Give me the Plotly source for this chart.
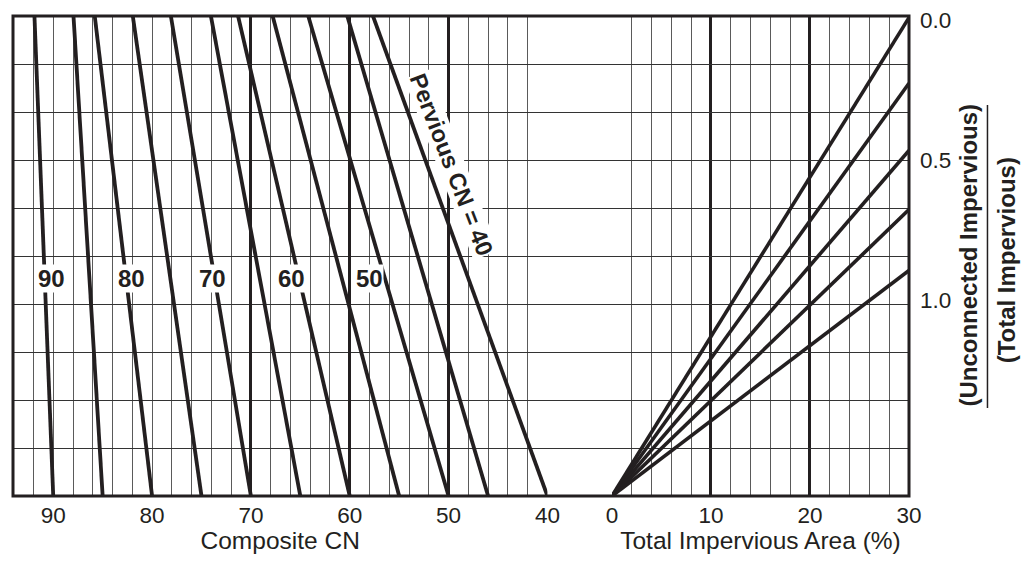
import plotly.graph_objects as go

# ---------------- data ----------------
# Left panel: pervious-CN lines, from the bottom (pervious CN) to the top edge (composite CN)
pervious_cn = [90, 85, 80, 75, 70, 65, 60, 55, 50, 46, 40]
composite_cn_top = [91.9, 87.95, 85.8, 81.95, 78.1, 74.05, 71.3, 67.8, 64.2, 60.25, 57.65]
frac_bottom_top = [0.0, 0.30]          # vertical scale (effective impervious fraction)

# Right panel: fan lines from 0 % to 30 % total impervious area
tia_start_end = [0, 30]
fan_end_frac = [0.299, 0.258, 0.216, 0.179, 0.141]

# Labels on the pervious-CN lines
cn_label_text = ["90", "80", "70", "60", "50"]
cn_label_x = [90.2, 82.1, 73.9, 65.9, 58.0]
cn_label_y = 0.136
pervious_label_text = "Pervious CN = 40"
pervious_label_x = 49.7
pervious_label_y = 0.207

# Ratio scale on the right
ratio_ticks = [0.0, 0.5, 1.0]
ratio_ticktext = ["0.0", "0.5", "1.0"]
ratio_range = [1.7, -0.0143]

# Axes
cn_range = [94.07, 40]
cn_ticks = [90, 80, 70, 60, 50, 40]
cn_heavy = [70, 60, 50, 40]
cn_minor = list(range(42, 94, 2))
tia_range = [0, 30]
tia_ticks = [0, 10, 20, 30]

# ---------------- figure ----------------
INK = "#231f20"
GRID_V = "#5a5a5a"
GRID_H = "#333333"
FONT = "Liberation Sans, Arial, Helvetica, sans-serif"
W, H = 1024, 561
ML, MR, MT, MB = 7, 115, 16, 65
PW, PH = W - ML - MR, H - MT - MB

def px2paper_x(px):
    return (px - ML) / PW

def px2paper_y(py):
    return (H - MB - py) / PH

fig = go.Figure()

# dummy traces so that the full-width subplot and the overlay axes exist
fig.add_trace(go.Scatter(x=[None], y=[None], xaxis="x", yaxis="y", showlegend=False, hoverinfo="skip"))
fig.add_trace(go.Scatter(x=[None], y=[None], xaxis="x4", yaxis="y", showlegend=False, hoverinfo="skip"))
fig.add_trace(go.Scatter(x=[None], y=[None], xaxis="x3", yaxis="y2", showlegend=False, hoverinfo="skip"))

for p, c in zip(pervious_cn, composite_cn_top):
    fig.add_trace(go.Scatter(x=[p, c], y=frac_bottom_top, mode="lines", xaxis="x2", yaxis="y",
                             line=dict(color=INK, width=3.8), showlegend=False, hoverinfo="skip"))

for f in fan_end_frac:
    fig.add_trace(go.Scatter(x=tia_start_end, y=[0, f], mode="lines", xaxis="x3", yaxis="y",
                             line=dict(color=INK, width=3.6), showlegend=False, hoverinfo="skip"))

annotations = []
for t, xv in zip(cn_label_text, cn_label_x):
    annotations.append(dict(x=xv, y=cn_label_y, xref="x2", yref="y", text="<b>%s</b>" % t,
                            xanchor="center", yanchor="middle",
                            showarrow=False, bgcolor="white", borderpad=0,
                            font=dict(family=FONT, size=24, color=INK)))
annotations.append(dict(x=pervious_label_x, y=pervious_label_y, xref="x2", yref="y",
                        text="<b>%s</b>" % pervious_label_text, textangle=69,
                        xanchor="center", yanchor="middle",
                        showarrow=False, bgcolor="white", borderpad=0,
                        font=dict(family=FONT, size=23.5, color=INK)))
annotations.append(dict(x=px2paper_x(968), y=px2paper_y(255), xref="paper", yref="paper",
                        xanchor="center", yanchor="middle",
                        text="<b>(Unconnected Impervious)</b>", textangle=-90, showarrow=False,
                        font=dict(family=FONT, size=24, color=INK)))
annotations.append(dict(x=px2paper_x(1007), y=px2paper_y(260), xref="paper", yref="paper",
                        xanchor="center", yanchor="middle",
                        text="<b>(Total Impervious)</b>", textangle=-90, showarrow=False,
                        font=dict(family=FONT, size=24, color=INK)))

shapes = [
    dict(type="rect", xref="paper", yref="paper", x0=0, x1=1, y0=0, y1=1,
         line=dict(color=INK, width=3), layer="above"),
    dict(type="line", xref="paper", yref="paper", x0=px2paper_x(988), x1=px2paper_x(988),
         y0=px2paper_y(408), y1=px2paper_y(105), line=dict(color=INK, width=1.5)),
]

tickfont = dict(family=FONT, size=22.5, color=INK)
titlefont = dict(family=FONT, size=24.5, color=INK)
split_left = px2paper_x(545)
split_right = px2paper_x(610)

fig.update_layout(
    width=W, height=H,
    margin=dict(l=ML, r=MR, t=MT, b=MB, pad=0),
    paper_bgcolor="white", plot_bgcolor="rgba(0,0,0,0)",
    showlegend=False,
    xaxis=dict(domain=[0, 1], range=[0, 1], anchor="y", showgrid=False, zeroline=False,
               showline=False, showticklabels=False, ticks=""),
    xaxis2=dict(domain=[0, split_left], range=cn_range, anchor="y",
                tickmode="array", tickvals=cn_ticks, ticktext=[str(v) for v in cn_ticks],
                showgrid=True, gridcolor=GRID_V, gridwidth=1.2,
                minor=dict(tickmode="array", tickvals=cn_minor, showgrid=True,
                           gridcolor=GRID_V, gridwidth=1.2, ticks=""),
                zeroline=False, showline=False, ticks="", ticklabelstandoff=3,
                tickfont=tickfont,
                title=dict(text="Composite CN", font=titlefont, standoff=2)),
    xaxis4=dict(overlaying="x2", range=cn_range, anchor="y", tickmode="array", tickvals=cn_heavy,
                showgrid=True, gridcolor=INK, gridwidth=2.6, showticklabels=False, ticks="",
                zeroline=False, showline=False),
    xaxis3=dict(domain=[split_right, 1], range=tia_range, anchor="y",
                tickmode="array", tickvals=tia_ticks, ticktext=[str(v) for v in tia_ticks],
                showgrid=True, gridcolor=INK, gridwidth=2.6,
                minor=dict(dtick=2, tick0=0, showgrid=True, gridcolor=GRID_V, gridwidth=1.2, ticks=""),
                zeroline=False, showline=False, ticks="", ticklabelstandoff=3,
                tickfont=tickfont,
                title=dict(text="Total Impervious Area (%)", font=titlefont, standoff=2)),
    yaxis=dict(domain=[0, 1], range=frac_bottom_top, anchor="x", dtick=0.03, tick0=0,
               showgrid=True, gridcolor=GRID_H, gridwidth=1.4, zeroline=False,
               showline=False, showticklabels=False, ticks=""),
    yaxis2=dict(overlaying="y", side="right", anchor="x3", range=ratio_range,
                tickmode="array", tickvals=ratio_ticks, ticktext=ratio_ticktext,
                showgrid=False, zeroline=False, showline=False, ticks="",
                ticklabelstandoff=10, tickfont=tickfont),
    annotations=annotations,
    shapes=shapes,
)

fig.write_html("out.html")
